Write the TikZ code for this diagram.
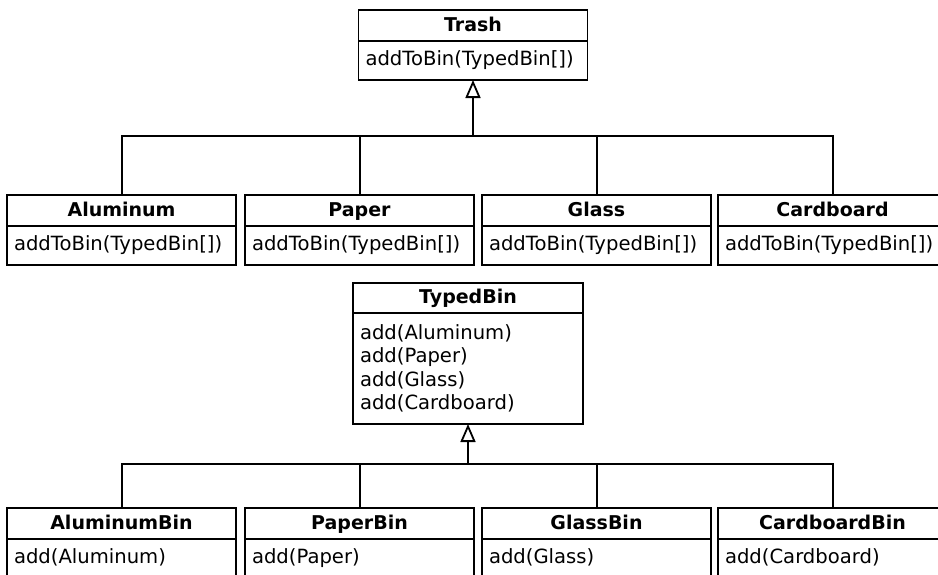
\documentclass[tikz,border=0pt]{standalone}
\usepackage{fontspec}
\setmainfont{DejaVu Sans}
\usetikzlibrary{positioning,arrows.meta}

\tikzset{
  classname/.style={draw, line width=0.9pt, outer sep=0pt, anchor=north, inner sep=0pt,
    text height=7pt, text depth=1.5pt,
    minimum width=114.5pt, minimum height=15.5pt, font=\fontsize{9.5}{11}\selectfont\bfseries},
  classops/.style={draw, line width=0.9pt, outer sep=0pt, below=0pt of #1, inner xsep=3.5pt, inner ysep=0pt,
    text height=7.5pt, text depth=2.5pt,
    text width=107.5pt, minimum height=19.5pt, align=left, font=\fontsize{9.8}{11.7}\selectfont},
  inherit/.style={line width=0.9pt, -{Triangle[open, width=7.5pt, length=9pt, line width=0.9pt]}},
  link/.style={line width=1pt},
}

\begin{document}
\begin{tikzpicture}[x=0.5pt,y=-0.5pt]
		\useasboundingbox (0,0) rectangle (938,574);
		\clip (0,0) rectangle (938,574);
		% base class
		\node[classname] (trash) at (473,10) {Trash};
		\node[classops=trash] (trash-ops) {addToBin(TypedBin[])};
		% trash types
		\node[classname] (aluminum) at (121.5,195) {Aluminum};
		\node[classops=aluminum] (aluminum-ops) {addToBin(TypedBin[])};
		\node[classname] (paper) at (359.5,195) {Paper};
		\node[classops=paper] (paper-ops) {addToBin(TypedBin[])};
		\node[classname] (glass) at (596.5,195) {Glass};
		\node[classops=glass] (glass-ops) {addToBin(TypedBin[])};
		\node[classname] (cardboard) at (832.5,195) {Cardboard};
		\node[classops=cardboard] (cardboard-ops) {addToBin(TypedBin[])};
		\coordinate (trash-hub) at (473,136);
		\draw[link] (aluminum.north) |- (trash-hub);
		\draw[link] (paper.north) |- (trash-hub);
		\draw[link] (glass.north) |- (trash-hub);
		\draw[link] (cardboard.north) |- (trash-hub);
		\draw[inherit] (trash-hub) -- (trash-ops.south);
		% bin base class
		\node[classname, minimum width=115pt, minimum height=15pt] (typedbin) at (468,283) {TypedBin};
		\node[classops=typedbin, text height={}, text depth={}, text width=108pt, minimum height=55.5pt] (typedbin-ops)
			{add(Aluminum)\\add(Paper)\\add(Glass)\\add(Cardboard)};
		% bin types
		\node[classname] (aluminumbin) at (121.5,508) {AluminumBin};
		\node[classops=aluminumbin] (aluminumbin-ops) {add(Aluminum)};
		\node[classname] (paperbin) at (359.5,508) {PaperBin};
		\node[classops=paperbin] (paperbin-ops) {add(Paper)};
		\node[classname] (glassbin) at (596.5,508) {GlassBin};
		\node[classops=glassbin] (glassbin-ops) {add(Glass)};
		\node[classname] (cardboardbin) at (832.5,508) {CardboardBin};
		\node[classops=cardboardbin] (cardboardbin-ops) {add(Cardboard)};
		\coordinate (bin-hub) at (468,464);
		\draw[link] (aluminumbin.north) |- (bin-hub);
		\draw[link] (paperbin.north) |- (bin-hub);
		\draw[link] (glassbin.north) |- (bin-hub);
		\draw[link] (cardboardbin.north) |- (bin-hub);
		\draw[inherit] (bin-hub) -- (typedbin-ops.south);
\end{tikzpicture}
\end{document}
